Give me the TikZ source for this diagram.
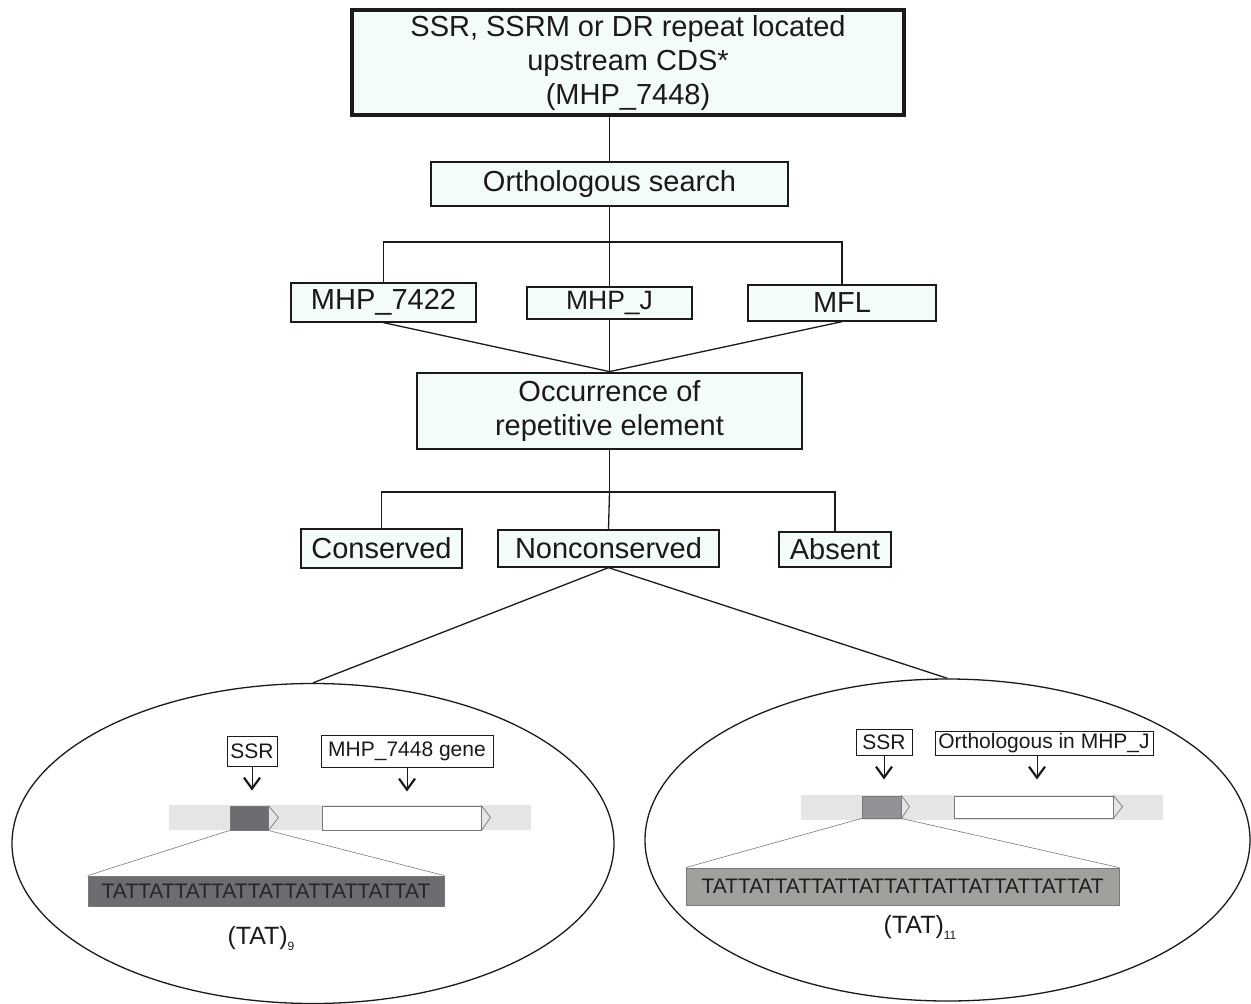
\documentclass[tikz,border=0pt]{standalone}
\usepackage{fontspec}
\setmainfont{Liberation Sans}
\usetikzlibrary{shapes.geometric,arrows.meta}
\definecolor{ink}{RGB}{28,25,26}
\definecolor{boxfill}{RGB}{244,251,251}
\definecolor{barfill}{RGB}{230,229,229}
\definecolor{darkseq}{RGB}{108,109,113}
\definecolor{midseq}{RGB}{145,146,149}
\definecolor{lightseq}{RGB}{160,160,157}
\definecolor{edgegrey}{RGB}{120,120,120}
\begin{document}
\begin{tikzpicture}[x=1pt,y=-1pt,
  flow/.style={draw=ink, fill=boxfill, line width=1.3pt, inner sep=0pt, align=center, text=ink,
    font=\fontsize{29}{34}\selectfont},
  heavy/.style={flow, line width=3.2pt},
  conn/.style={draw=ink, line width=1.3pt},
  lab/.style={draw=ink, fill=white, line width=1pt, inner sep=0pt, text=ink, font=\fontsize{21}{24}\selectfont},
  pointer/.style={draw=ink, line width=0.9pt, -{Straight Barb[length=11pt,width=16pt,line width=2.2pt]}},
  bar/.style={fill=barfill, draw=none, inner sep=0pt},
  ssrbox/.style={draw=edgegrey, line width=0.9pt, inner sep=0pt},
  genebox/.style={draw=edgegrey, fill=white, line width=0.9pt, inner sep=0pt},
  tri/.style={draw=edgegrey, line width=0.7pt},
  zoomline/.style={draw=edgegrey, line width=0.6pt},
  seq/.style={draw=edgegrey, line width=0.8pt, inner sep=0pt, font=\fontsize{21}{24}\selectfont},
  tatlab/.style={inner sep=0pt, text=ink, font=\fontsize{25}{28}\selectfont},
  oval/.style={ellipse, draw=ink, line width=1.3pt, inner sep=0pt}
]
\useasboundingbox (0,0) rectangle (1251,1004);

% flow chart
\node[heavy, minimum width=552pt, minimum height=105pt] (top) at (628,62.5)
  {SSR, SSRM or DR repeat located\\upstream CDS*\\(MHP\_7448)};
\node[flow, minimum width=357pt, minimum height=44pt] (orth) at (609.5,184) {Orthologous search};
\node[flow, minimum width=185pt, minimum height=39pt] (m7422) at (383.5,302.5) {MHP\_7422};
\node[flow, minimum width=165pt, minimum height=32pt, font=\fontsize{26.5}{30}\selectfont] (mhpj) at (609.5,303) {MHP\_J};
\node[flow, minimum width=188pt, minimum height=36pt] (mfl) at (842,303) {MFL};
\node[heavy, line width=2.8pt, minimum width=385pt, minimum height=76pt] (occ) at (609.5,411)
  {Occurrence of\\repetitive element};
\node[flow, minimum width=161pt, minimum height=39pt] (cons) at (381.5,548.5) {Conserved};
\node[flow, minimum width=221pt, minimum height=37pt] (noncons) at (608.5,548.5) {Nonconserved};
\node[flow, minimum width=112pt, minimum height=35pt] (absent) at (835,549.5) {Absent};

\coordinate (j1) at (609.5,242);
\coordinate (j2) at (609.5,492);

\draw[conn] (top.south -| orth.north) -- (orth.north);
\draw[conn] (orth.south) -- (j1);
\draw[conn] (m7422.north) |- (j1) -| (mfl.north);
\draw[conn] (j1) -- (mhpj.north);
\draw[conn] (m7422.south) -- (occ.north);
\draw[conn] (mhpj.south) -- (occ.north);
\draw[conn] (mfl.south) -- (occ.north);
\draw[conn] (occ.south) -- (j2);
\draw[conn] (cons.north) |- (j2) -| (absent.north);
\draw[conn] (j2) -- (noncons.north);

% ellipses
\node[oval, minimum width=602pt, minimum height=320pt] (ellA) at (313,843.5) {};
\node[oval, minimum width=605pt, minimum height=322pt] (ellB) at (947.5,840) {};
\draw[conn] (noncons.south) -- (ellA.north);
\draw[conn] (noncons.south) -- (ellB.north);

% ----- left ellipse content
\node[bar, minimum width=362pt, minimum height=25pt] (barA) at (350,817.5) {};
\node[ssrbox, fill=darkseq, minimum width=38pt, minimum height=24pt] (sboxA) at (249,818) {};
\draw[tri] (sboxA.north east) -- ++(10,12) -- (sboxA.south east);
\node[genebox, minimum width=159pt, minimum height=24pt] (gboxA) at (401.5,818) {};
\draw[tri] (gboxA.north east) -- ++(9,12) -- (gboxA.south east);
\node[lab, minimum width=50pt, minimum height=30pt] (ssrA) at (252,751) {SSR};
\node[lab, minimum width=172pt, minimum height=32pt] (geneA) at (407,751) {MHP\_7448 gene};
\draw[pointer] (ssrA.south) -- ++(0,24);
\draw[pointer] (geneA.south) -- ++(0,24);
\node[seq, fill=darkseq, text={rgb,255:red,38;green,38;blue,42}, minimum width=356pt, minimum height=30pt] (seqA) at (266,891)
  {TATTATTATTATTATTATTATTATTAT};
\draw[zoomline] (sboxA.south west) -- (seqA.north west);
\draw[zoomline] (sboxA.south east) -- (seqA.north east);
\node[tatlab] (tatA) at (261,938) {(TAT)\raisebox{-6pt}{\fontsize{12}{12}\selectfont 9}};

% ----- right ellipse content
\node[bar, minimum width=362pt, minimum height=25pt] (barB) at (982,807.5) {};
\node[ssrbox, fill=midseq, minimum width=39pt, minimum height=22pt] (sboxB) at (881.5,807) {};
\draw[tri] (sboxB.north east) -- ++(8,11) -- (sboxB.south east);
\node[genebox, minimum width=159pt, minimum height=22pt] (gboxB) at (1033.5,807) {};
\draw[tri] (gboxB.north east) -- ++(9,11) -- (gboxB.south east);
\node[lab, minimum width=56pt, minimum height=26pt] (ssrB) at (884,742) {SSR};
\node[lab, minimum width=218pt, minimum height=24pt] (geneB) at (1044,743) {Orthologous in MHP\_J};
\draw[pointer] (ssrB.south) -- ++(0,24);
\draw[pointer] (geneB.south -| 1037,0) -- ++(0,24);
\node[seq, fill=lightseq, text={rgb,255:red,30;green,30;blue,30}, minimum width=433pt, minimum height=37pt] (seqB) at (902.5,886.5)
  {TATTATTATTATTATTATTATTATTATTATTAT};
\draw[zoomline] (sboxB.south west) -- (seqB.north west);
\draw[zoomline] (sboxB.south east) -- (seqB.north east);
\node[tatlab] (tatB) at (920,927) {(TAT)\raisebox{-6pt}{\fontsize{12}{12}\selectfont 11}};
\end{tikzpicture}
\end{document}
